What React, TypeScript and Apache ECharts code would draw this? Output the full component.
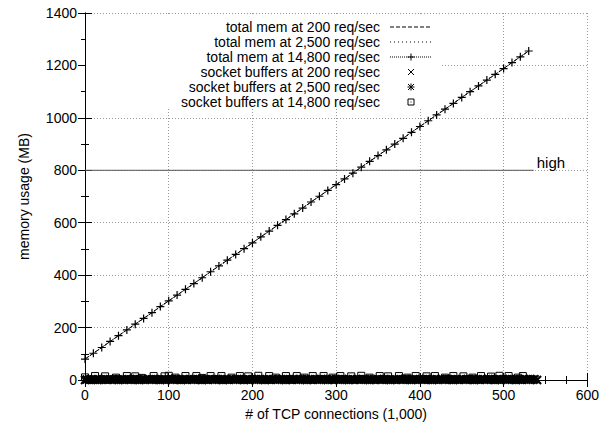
import React, { useEffect, useRef } from "react";
import * as echarts from "echarts";

// x positions (thousands of TCP connections)
const memConnections = [0, 10, 20, 30, 40, 50, 60, 70, 80, 90, 100, 110, 120, 130, 140, 150, 160, 170, 180, 190, 200, 210, 220, 230, 240, 250, 260, 270, 280, 290, 300, 310, 320, 330, 340, 350, 360, 370, 380, 390, 400, 410, 420, 430, 440, 450, 460, 470, 480, 490, 500, 510, 520, 530];
const totalMem200 = [80, 102, 124, 147, 169, 191, 213, 235, 257, 280, 302, 324, 346, 368, 390, 413, 435, 457, 479, 501, 523, 546, 568, 590, 612, 634, 656, 679, 701, 723, 745, 767, 789, 812, 834, 856, 878, 900, 922, 945, 967, 989, 1011, 1033, 1055, 1078, 1100, 1122, 1144, 1166, 1188, 1211, 1233, 1255];
const totalMem2500 = [80, 102, 124, 147, 169, 191, 213, 235, 257, 280, 302, 324, 346, 368, 390, 413, 435, 457, 479, 501, 523, 546, 568, 590, 612, 634, 656, 679, 701, 723, 745, 767, 789, 812, 834, 856, 878, 900, 922, 945, 967, 989, 1011, 1033, 1055, 1078, 1100, 1122, 1144, 1166, 1188, 1211, 1233, 1255];
const totalMem14800 = [80, 102, 124, 147, 169, 191, 213, 235, 257, 280, 302, 324, 346, 368, 390, 413, 435, 457, 479, 501, 523, 546, 568, 590, 612, 634, 656, 679, 701, 723, 745, 767, 789, 812, 834, 856, 878, 900, 922, 945, 967, 989, 1011, 1033, 1055, 1078, 1100, 1122, 1144, 1166, 1188, 1211, 1233, 1255];

const sock200Connections = [0, 5, 10, 15, 20, 25, 30, 35, 40, 45, 50, 55, 60, 65, 70, 75, 80, 85, 90, 95, 100, 105, 110, 115, 120, 125, 130, 135, 140, 145, 150, 155, 160, 165, 170, 175, 180, 185, 190, 195, 200, 205, 210, 215, 220, 225, 230, 235, 240, 245, 250, 255, 260, 265, 270, 275, 280, 285, 290, 295, 300, 305, 310, 315, 320, 325, 330, 335, 340, 345, 350, 355, 360, 365, 370, 375, 380, 385, 390, 395, 400, 405, 410, 415, 420, 425, 430, 435, 440, 445, 450, 455, 460, 465, 470, 475, 480, 485, 490, 495, 500, 505, 510, 515, 520, 525, 530, 535, 540];
const sockBuf200 = [0, 1, 1, 0, 1, 1, 2, 1, 0, 1, 2, 1, 1, 0, 1, 2, 1, 1, 0, 1, 2, 1, 1, 0, 1, 2, 1, 1, 0, 1, 2, 1, 1, 0, 1, 2, 1, 1, 0, 1, 2, 1, 1, 0, 1, 2, 1, 1, 0, 1, 2, 1, 1, 0, 1, 2, 1, 1, 0, 1, 2, 1, 1, 0, 1, 2, 1, 1, 0, 1, 2, 1, 1, 0, 1, 2, 1, 1, 0, 1, 2, 1, 1, 0, 1, 2, 1, 1, 0, 1, 2, 1, 1, 0, 1, 2, 1, 1, 0, 1, 2, 1, 1, 0, 1, 2, 1, 1, 0];
const sock2500Connections = [2, 7, 12, 17, 22, 27, 32, 37, 42, 47, 52, 57, 62, 67, 72, 77, 82, 87, 92, 97, 102, 107, 112, 117, 122, 127, 132, 137, 142, 147, 152, 157, 162, 167, 172, 177, 182, 187, 192, 197, 202, 207, 212, 217, 222, 227, 232, 237, 242, 247, 252, 257, 262, 267, 272, 277, 282, 287, 292, 297, 302, 307, 312, 317, 322, 327, 332, 337, 342, 347, 352, 357, 362, 367, 372, 377, 382, 387, 392, 397, 402, 407, 412, 417, 422, 427, 432, 437, 442, 447, 452, 457, 462, 467, 472, 477, 482, 487, 492, 497, 502, 507, 512, 517, 522, 527, 532, 537];
const sockBuf2500 = [2, 3, 2, 3, 3, 2, 3, 4, 3, 2, 3, 3, 4, 3, 2, 3, 4, 3, 3, 2, 3, 4, 3, 3, 2, 3, 4, 3, 3, 2, 3, 4, 3, 3, 2, 3, 4, 3, 3, 2, 3, 4, 3, 3, 2, 3, 4, 3, 3, 2, 3, 4, 3, 3, 2, 3, 4, 3, 3, 2, 3, 4, 3, 3, 2, 3, 4, 3, 3, 2, 3, 4, 3, 3, 2, 3, 4, 3, 3, 2, 3, 4, 3, 3, 2, 3, 4, 3, 3, 2, 3, 4, 3, 3, 2, 3, 4, 3, 3, 2, 3, 4, 3, 3, 2, 3, 4, 3];
const sock14800Connections = [0, 12, 24, 37, 50, 60, 68, 82, 95, 100, 108, 120, 133, 140, 150, 163, 175, 185, 195, 207, 220, 228, 240, 253, 262, 272, 285, 296, 305, 318, 330, 340, 352, 362, 375, 385, 395, 408, 418, 430, 440, 452, 463, 473, 485, 495, 506, 517, 523];
const sockBuf14800 = [10, 15, 14, 9, 15, 14, 8, 15, 14, 16, 9, 15, 15, 8, 15, 15, 9, 15, 14, 16, 15, 9, 15, 15, 9, 15, 15, 9, 15, 14, 16, 9, 15, 14, 15, 9, 15, 14, 15, 9, 15, 14, 9, 15, 13, 16, 15, 9, 15];

const highConnections = [0, 536];
const highLevel = [800, 800];

const xTicks = { min: 0, max: 600, interval: 100 };
const yTicks = { min: 0, max: 1400, interval: 200 };

const legendNames = [
  "total mem at 200 req/sec",
  "total mem at 2,500 req/sec",
  "total mem at 14,800 req/sec",
  "socket buffers at 200 req/sec",
  "socket buffers at 2,500 req/sec",
  "socket buffers at 14,800 req/sec",
];

const FONT = '"Liberation Sans", Arial, Helvetica, sans-serif';

const PLUS = "path://M0,5L10,5M5,0L5,10";
const CROSS = "path://M0,0L10,10M10,0L0,10";
const STAR = "path://M0,5L10,5M5,0L5,10M0,0L10,10M10,0L0,10";
const BOX = "path://M0,0L10,0L10,10L0,10ZM4.6,4.6L5.4,4.6L5.4,5.4L4.6,5.4Z";

function zip(xs: number[], ys: number[]) {
  return xs.map((x, i) => [x, ys[i]]);
}

export default function App() {
  const ref = useRef<HTMLDivElement>(null);
  useEffect(() => {
    if (!ref.current) return;
    const chart = echarts.init(ref.current, null, { renderer: "svg" });

    const axisLine = { show: true, lineStyle: { color: "#000", width: 1 } };
    const tick = { show: true, inside: true, length: 7, lineStyle: { color: "#000" } };
    const splitLine = { show: true, lineStyle: { color: "#999", type: [1, 2], width: 1 } };
    const plain = (v: number) => String(v);

    const rowY = [27, 42, 57, 72, 87, 102];
    const legendX = 380;
    const sx1 = 390, sx2 = 432, mx = 411;
    const graphics: any[] = [
      { type: "rect", shape: { x: 86, y: 14, width: 354, height: 94 }, style: { fill: "#fff" }, z: 1, silent: true },
    ];
    legendNames.forEach((n, i) => {
      graphics.push({
        type: "text", x: legendX, y: rowY[i], z: 10,
        style: { text: n, fill: "#000", fontSize: 14, lineHeight: 14, fontFamily: FONT, align: "right", verticalAlign: "middle" },
      });
    });
    const ln = (x1: number, y1: number, x2: number, y2: number, dash?: number[]) => ({
      type: "line", z: 10, shape: { x1, y1, x2, y2 },
      style: { stroke: "#000", lineWidth: 1, lineDash: dash || null },
    });
    graphics.push(ln(sx1, rowY[0], sx2, rowY[0], [4, 2]));
    graphics.push(ln(sx1, rowY[1], sx2, rowY[1], [1, 3]));
    graphics.push(ln(sx1, rowY[2], sx2, rowY[2], [1, 1]));
    graphics.push(ln(mx - 3.5, rowY[2], mx + 3.5, rowY[2]));
    graphics.push(ln(mx, rowY[2] - 3.5, mx, rowY[2] + 3.5));
    graphics.push(ln(mx - 3, rowY[3] - 3, mx + 3, rowY[3] + 3));
    graphics.push(ln(mx + 3, rowY[3] - 3, mx - 3, rowY[3] + 3));
    graphics.push(ln(mx - 3.5, rowY[4], mx + 3.5, rowY[4]));
    graphics.push(ln(mx, rowY[4] - 3.5, mx, rowY[4] + 3.5));
    graphics.push(ln(mx - 3, rowY[4] - 3, mx + 3, rowY[4] + 3));
    graphics.push(ln(mx + 3, rowY[4] - 3, mx - 3, rowY[4] + 3));
    graphics.push({ type: "rect", z: 10, shape: { x: mx - 3, y: rowY[5] - 3, width: 6, height: 6 }, style: { fill: "none", stroke: "#000", lineWidth: 1 } });
    graphics.push({ type: "rect", z: 10, shape: { x: mx - 0.5, y: rowY[5] - 0.5, width: 1, height: 1 }, style: { fill: "#000" } });

    const lineSeries = (name: string, ys: number[], dash: any, withMarker: boolean) => ({
      name, type: "line", xAxisIndex: 0, yAxisIndex: 0,
      data: zip(memConnections, ys),
      symbol: withMarker ? PLUS : "none",
      symbolSize: 8,
      showSymbol: withMarker,
      lineStyle: { color: "#000", width: 1, type: dash },
      itemStyle: { color: "#000", borderColor: "#000", borderWidth: 1.2 },
      z: 3,
    });
    const scatterSeries = (name: string, xs: number[], ys: number[], symbol: string, size: number, fill: string, bw: number) => ({
      name, type: "scatter", xAxisIndex: 0, yAxisIndex: 0,
      data: zip(xs, ys),
      symbol, symbolSize: size,
      itemStyle: { color: fill, borderColor: "#000", borderWidth: bw, opacity: 1 },
      z: 4,
    });

    chart.setOption({
      animation: false,
      backgroundColor: "#fff",
      textStyle: { fontFamily: FONT },
      grid: { left: 85, right: 14, top: 13, bottom: 46, containLabel: false },
      graphic: graphics,
      xAxis: [
        {
          type: "value", position: "bottom", ...xTicks,
          axisLine, axisTick: tick,
          minorTick: { show: true, splitNumber: 4, length: 4, lineStyle: { color: "#000" } },
          splitLine,
          axisLabel: { color: "#000", fontSize: 14, fontFamily: FONT, margin: 8, formatter: plain },
          name: "# of TCP connections (1,000)", nameLocation: "middle", nameGap: 24,
          nameTextStyle: { color: "#000", fontSize: 14, fontFamily: FONT },
        },
        {
          type: "value", position: "top", ...xTicks,
          axisLine, axisTick: tick,
          minorTick: { show: true, splitNumber: 4, length: 4, lineStyle: { color: "#000" } },
          splitLine: { show: false }, axisLabel: { show: false },
        },
      ],
      yAxis: [
        {
          type: "value", position: "left", ...yTicks,
          axisLine, axisTick: tick,
          minorTick: { show: true, splitNumber: 2, length: 4, lineStyle: { color: "#000" } },
          splitLine,
          axisLabel: { color: "#000", fontSize: 14, fontFamily: FONT, margin: 8, formatter: plain },
          name: "memory usage (MB)", nameLocation: "middle", nameGap: 54,
          nameTextStyle: { color: "#000", fontSize: 14, fontFamily: FONT },
        },
        {
          type: "value", position: "right", ...yTicks,
          axisLine, axisTick: tick,
          minorTick: { show: true, splitNumber: 2, length: 4, lineStyle: { color: "#000" } },
          splitLine: { show: false }, axisLabel: { show: false },
        },
      ],
      series: [
        {
          name: "high", type: "line", xAxisIndex: 0, yAxisIndex: 0,
          data: zip(highConnections, highLevel),
          symbol: "none",
          lineStyle: { color: "#555", width: 1 },
          endLabel: { show: true, formatter: "high", color: "#000", fontSize: 15, fontFamily: FONT, offset: [-5, -8] },
          z: 2,
        },
        lineSeries(legendNames[0], totalMem200, [4, 2], false),
        lineSeries(legendNames[1], totalMem2500, [1, 3], false),
        lineSeries(legendNames[2], totalMem14800, [1, 1], true),
        scatterSeries(legendNames[3], sock200Connections, sockBuf200, CROSS, 8, "#000", 2),
        scatterSeries(legendNames[4], sock2500Connections, sockBuf2500, STAR, 8, "#000", 2),
        scatterSeries(legendNames[5], sock14800Connections, sockBuf14800, BOX, 7, "none", 1),
      ],
    });
    return () => chart.dispose();
  }, []);
  return <div ref={ref} style={{ width: 602, height: 426, position: "absolute", left: 0, top: 0 }} />;
}
